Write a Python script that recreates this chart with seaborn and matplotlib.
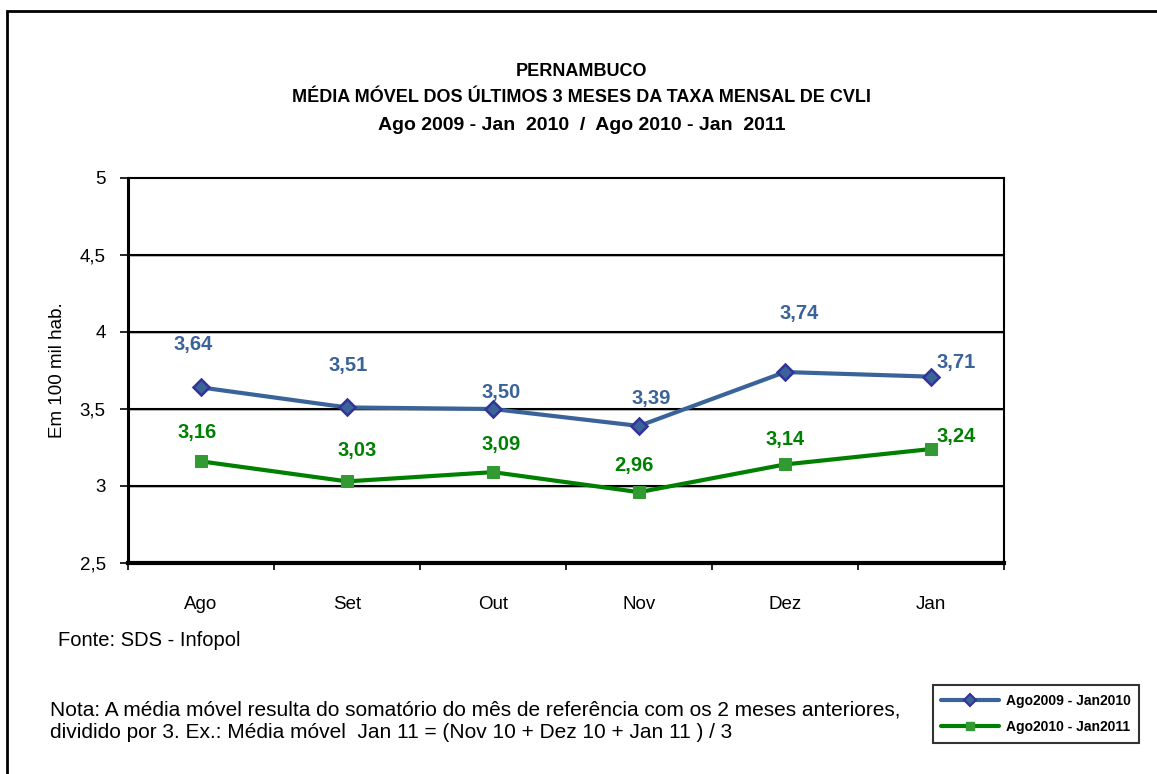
import pandas as pd
import seaborn as sns
import matplotlib.pyplot as plt
from matplotlib.patches import Rectangle
from matplotlib.lines import Line2D

# Data
MONTHS = ['Ago', 'Set', 'Out', 'Nov', 'Dez', 'Jan']
SERIES_NAMES = ['Ago2009 - Jan2010', 'Ago2010 - Jan2011']
VALUES_2009 = [3.64, 3.51, 3.50, 3.39, 3.74, 3.71]
VALUES_2010 = [3.16, 3.03, 3.09, 2.96, 3.14, 3.24]
Y_TICKS = [2.5, 3, 3.5, 4, 4.5, 5]
Y_TICK_LABELS = ['2,5', '3', '3,5', '4', '4,5', '5']

# label offsets (points) relative to each marker
OFFSETS_2009 = [(-6, 31), (1, 30), (6, 12), (9, 20), (10, 42), (18, 10)]
OFFSETS_2010 = [(-3, 21), (7, 22), (6, 20), (-4, 19), (0, 18), (18, 9)]

BLUE_LINE = '#3a6399'
BLUE_MARK = '#333399'
GREEN_LINE = '#008000'
GREEN_MARK = '#339933'

sns.set_theme(style='white')
plt.rcParams['font.family'] = ['Liberation Sans', 'DejaVu Sans']
plt.rcParams['text.color'] = 'black'
plt.rcParams['axes.labelcolor'] = 'black'
plt.rcParams['xtick.color'] = 'black'
plt.rcParams['ytick.color'] = 'black'

df = pd.DataFrame({
    'mes': MONTHS * 2,
    'x': list(range(len(MONTHS))) * 2,
    'valor': VALUES_2009 + VALUES_2010,
    'serie': [SERIES_NAMES[0]] * len(MONTHS) + [SERIES_NAMES[1]] * len(MONTHS),
})

fig = plt.figure(figsize=(11.57, 7.74), dpi=100)
ax = fig.add_axes([128 / 1157, 1 - 563 / 774, 876 / 1157, 385 / 774])

# gridlines with a faint shadow underneath
for y in Y_TICKS[1:-1]:
    ax.axhline(y - 0.008, color='#b0b0b0', lw=1.2, zorder=1)
    ax.axhline(y, color='black', lw=1.5, zorder=1.1)

sns.lineplot(data=df[df['serie'] == SERIES_NAMES[0]], x='x', y='valor', ax=ax,
             color=BLUE_LINE, lw=3, marker='D', markersize=8,
             markerfacecolor=BLUE_LINE, markeredgecolor=BLUE_MARK, markeredgewidth=1.8,
             zorder=3, legend=False)
sns.lineplot(data=df[df['serie'] == SERIES_NAMES[1]], x='x', y='valor', ax=ax,
             color=GREEN_LINE, lw=3, marker='s', markersize=8,
             markerfacecolor=GREEN_MARK, markeredgecolor=GREEN_MARK,
             zorder=3, legend=False)

for i, (v, off) in enumerate(zip(VALUES_2009, OFFSETS_2009)):
    ax.annotate(f'{v:.2f}'.replace('.', ','), (i, v), xytext=off, textcoords='offset points',
                ha='center', va='center', fontsize=14.5, fontweight='bold', color=BLUE_LINE)
for i, (v, off) in enumerate(zip(VALUES_2010, OFFSETS_2010)):
    ax.annotate(f'{v:.2f}'.replace('.', ','), (i, v), xytext=off, textcoords='offset points',
                ha='center', va='center', fontsize=14.5, fontweight='bold', color=GREEN_LINE)

ax.set_xlim(-0.5, len(MONTHS) - 0.5)
ax.set_ylim(2.5, 5)
ax.set_yticks(Y_TICKS)
ax.set_yticklabels(Y_TICK_LABELS, fontsize=13.5)
ax.set_xticks([i - 0.5 for i in range(len(MONTHS) + 1)])
ax.set_xticklabels([])
ax.set_xticks(range(len(MONTHS)), minor=True)
ax.set_xticklabels(MONTHS, minor=True, fontsize=13.5)
ax.tick_params(axis='x', which='major', direction='out', length=5, width=1.2, color='black', bottom=True)
ax.tick_params(axis='x', which='minor', length=0, pad=24)
ax.tick_params(axis='y', direction='out', length=6, width=1.2, color='black', left=True, pad=10)
ax.set_xlabel('')
ax.set_ylabel('Em 100 mil hab.', fontsize=13.5, labelpad=10)
for side in ['top', 'right']:
    ax.spines[side].set_linewidth(1.5)
    ax.spines[side].set_color('black')
ax.spines['left'].set_linewidth(2.2)
ax.spines['bottom'].set_linewidth(3)
ax.spines['left'].set_color('black')
ax.spines['bottom'].set_color('black')

# titles
fig.text(0.5025, 1 - 72 / 774, 'PERNAMBUCO', ha='center', va='center', fontsize=13, fontweight='bold')
fig.text(0.5025, 1 - 98 / 774, 'MÉDIA MÓVEL DOS ÚLTIMOS 3 MESES DA TAXA MENSAL DE CVLI',
         ha='center', va='center', fontsize=13, fontweight='bold')
fig.text(0.5025, 1 - 125 / 774, 'Ago 2009 - Jan  2010  /  Ago 2010 - Jan  2011',
         ha='center', va='center', fontsize=14, fontweight='bold')

fig.text(58 / 1157, 1 - 640 / 774, 'Fonte: SDS - Infopol', ha='left', va='center', fontsize=14.5)
fig.text(50 / 1157, 1 - 710 / 774,
         'Nota: A média móvel resulta do somatório do mês de referência com os 2 meses anteriores,',
         ha='left', va='center', fontsize=15)
fig.text(50 / 1157, 1 - 733 / 774,
         'dividido por 3. Ex.: Média móvel  Jan 11 = (Nov 10 + Dez 10 + Jan 11 ) / 3',
         ha='left', va='center', fontsize=15)

# legend
handles = [
    Line2D([], [], color=BLUE_LINE, lw=3, marker='D', markersize=6,
           markerfacecolor=BLUE_LINE, markeredgecolor=BLUE_MARK, markeredgewidth=1.5),
    Line2D([], [], color=GREEN_LINE, lw=3, marker='s', markersize=6,
           markerfacecolor=GREEN_MARK, markeredgecolor=GREEN_MARK),
]
leg = fig.legend(handles, SERIES_NAMES, loc='center',
                 bbox_to_anchor=(1036 / 1157, 1 - 714 / 774),
                 prop={'size': 10, 'weight': 'bold'}, frameon=True, fancybox=False,
                 edgecolor='black', handlelength=4.2, borderpad=0.6, labelspacing=0.9,
                 handletextpad=0.5)
leg.get_frame().set_linewidth(1.5)

# outer frame of the figure
fig.patches.append(Rectangle((7 / 1157, -0.05), 1.2, 1 - 11 / 774 + 0.05, transform=fig.transFigure,
                             fill=False, edgecolor='black', lw=2, clip_on=False))

fig.savefig('out.png', dpi=100)
